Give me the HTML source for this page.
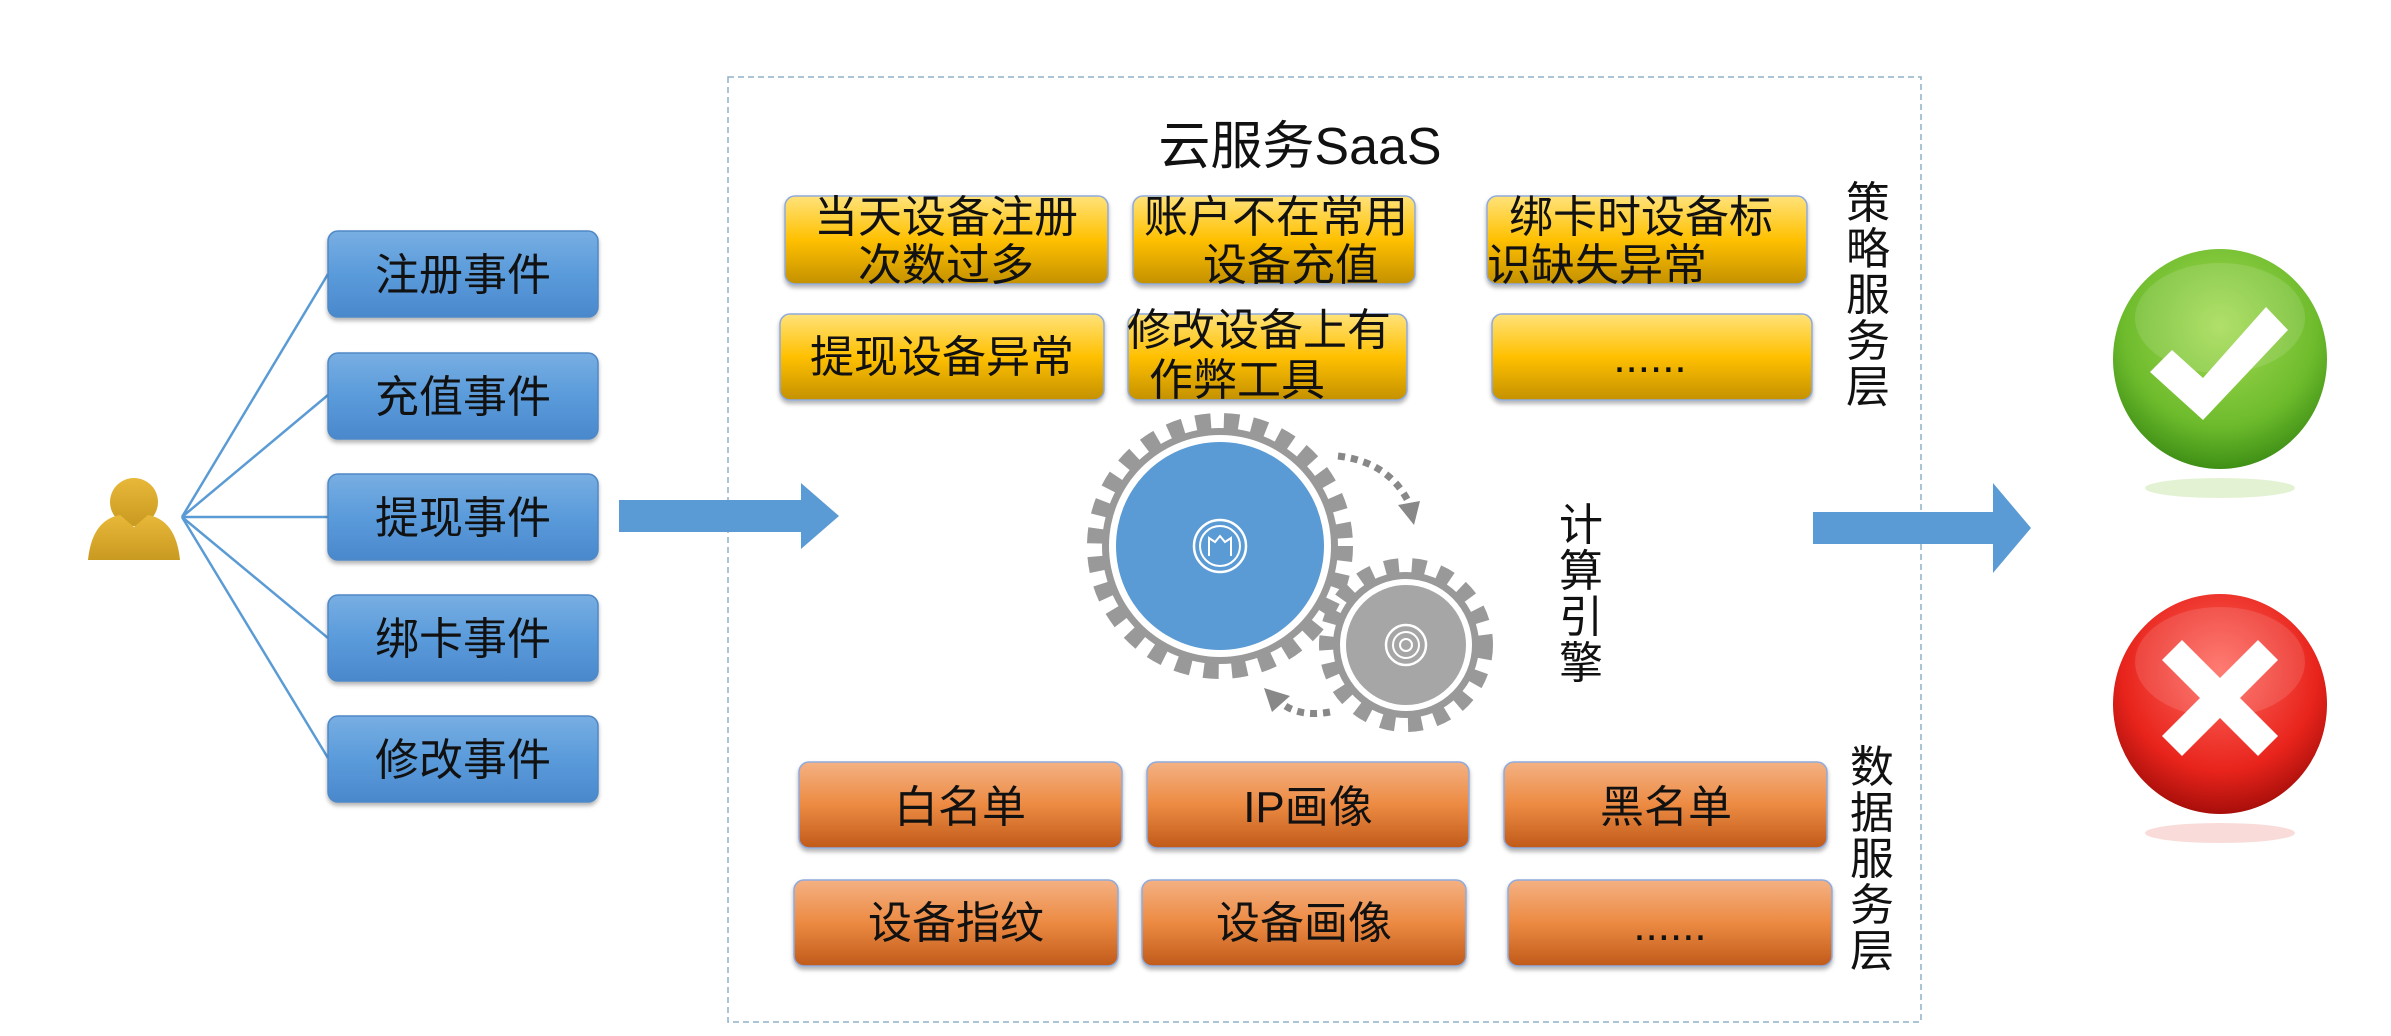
<!DOCTYPE html>
<html><head><meta charset="utf-8"><style>
html,body{margin:0;padding:0;background:#fff;}
svg{display:block;}
text{font-family:"Liberation Sans","Noto Sans CJK SC",sans-serif;}
</style></head><body>
<svg width="2391" height="1036" viewBox="0 0 2391 1036" xmlns="http://www.w3.org/2000/svg">
<defs>
<linearGradient id="gb" x1="0" y1="0" x2="0" y2="1"><stop offset="0" stop-color="#78aee2"/><stop offset="0.5" stop-color="#5a9bdb"/><stop offset="1" stop-color="#4a88cc"/></linearGradient>
<linearGradient id="gy" x1="0" y1="0" x2="0" y2="1"><stop offset="0" stop-color="#ffe27a"/><stop offset="0.5" stop-color="#ffc000"/><stop offset="1" stop-color="#c49100"/></linearGradient>
<linearGradient id="go" x1="0" y1="0" x2="0" y2="1"><stop offset="0" stop-color="#f4b183"/><stop offset="0.5" stop-color="#ec8a42"/><stop offset="1" stop-color="#c05a1a"/></linearGradient>
<radialGradient id="ggreen" cx="0.5" cy="0.35" r="0.65"><stop offset="0" stop-color="#a6dc55"/><stop offset="0.7" stop-color="#6dbb2c"/><stop offset="1" stop-color="#3f8f16"/></radialGradient>
<radialGradient id="gred" cx="0.5" cy="0.35" r="0.65"><stop offset="0" stop-color="#ff6a60"/><stop offset="0.7" stop-color="#e8241c"/><stop offset="1" stop-color="#a80e0a"/></radialGradient>
<linearGradient id="gp" x1="0" y1="0" x2="0" y2="1"><stop offset="0" stop-color="#e8b83a"/><stop offset="1" stop-color="#c99a20"/></linearGradient>
<filter id="sh" x="-10%" y="-10%" width="120%" height="130%"><feDropShadow dx="0" dy="3" stdDeviation="2" flood-color="#000" flood-opacity="0.3"/></filter>
</defs>

<rect x="728" y="77" width="1193" height="945" fill="none" stroke="#8fb0c8" stroke-width="1.5" stroke-dasharray="6 4"/>

<circle cx="134" cy="502" r="24" fill="url(#gp)"/>
<path d="M88 560 Q92 520 120 515 L134 527 L148 515 Q176 520 180 560 Z" fill="url(#gp)"/>

<g stroke="#5b9bd5" stroke-width="2.5" fill="none">
<line x1="182" y1="517" x2="328" y2="274"/>
<line x1="182" y1="517" x2="328" y2="395"/>
<line x1="182" y1="517" x2="328" y2="517"/>
<line x1="182" y1="517" x2="328" y2="638"/>
<line x1="182" y1="517" x2="328" y2="758"/>
</g>

<g filter="url(#sh)" fill="url(#gb)" stroke="#4f88c6" stroke-width="1.5">
<rect x="328" y="231" width="270" height="86" rx="10"/>
<rect x="328" y="353" width="270" height="86" rx="10"/>
<rect x="328" y="474" width="270" height="86" rx="10"/>
<rect x="328" y="595" width="270" height="86" rx="10"/>
<rect x="328" y="716" width="270" height="86" rx="10"/>
</g>
<g font-size="44" fill="#111" text-anchor="middle">
<text x="463" y="290">注册事件</text>
<text x="463" y="412">充值事件</text>
<text x="463" y="533">提现事件</text>
<text x="463" y="654">绑卡事件</text>
<text x="463" y="775">修改事件</text>
</g>

<path d="M619 500 H801 V483 L839 516 L801 549 V532 H619 Z" fill="#5b9bd5"/>
<path d="M1813 512 H1993 V483 L2031 528 L1993 573 V544 H1813 Z" fill="#5b9bd5"/>

<text x="1300" y="164" font-size="52" text-anchor="middle" fill="#111">云服务SaaS</text>

<g filter="url(#sh)" fill="url(#gy)" stroke="#8faadc" stroke-width="1.5">
<rect x="785" y="196" width="323" height="88" rx="10"/>
<rect x="1133" y="196" width="282" height="88" rx="10"/>
<rect x="1487" y="196" width="320" height="88" rx="10"/>
<rect x="780" y="314" width="324" height="86" rx="10"/>
<rect x="1128" y="314" width="279" height="86" rx="10"/>
<rect x="1492" y="314" width="320" height="86" rx="10"/>
</g>
<g font-size="44" fill="#111" text-anchor="middle">
<text x="946" y="232">当天设备注册</text>
<text x="946" y="280">次数过多</text>
<text x="1276" y="232">账户不在常用</text>
<text x="1291" y="280">设备充值</text>
<text x="1641" y="232">绑卡时设备标</text>
<text x="1597" y="280">识缺失异常</text>
<text x="942" y="372">提现设备异常</text>
<text x="1259" y="345">修改设备上有</text>
<text x="1237" y="395">作弊工具</text>
<text x="1650" y="372">......</text>
</g>

<g font-size="44" fill="#111" text-anchor="middle">
<text x="1868" y="218">策</text><text x="1868" y="264">略</text><text x="1868" y="310">服</text><text x="1868" y="356">务</text><text x="1868" y="402">层</text>
<text x="1872" y="782">数</text><text x="1872" y="828">据</text><text x="1872" y="874">服</text><text x="1872" y="920">务</text><text x="1872" y="966">层</text>
<text x="1581" y="540">计</text><text x="1581" y="586">算</text><text x="1581" y="632">引</text><text x="1581" y="678">擎</text>
</g>

<!-- gears -->
<circle cx="1220" cy="546" r="124" fill="none" stroke="#999" stroke-width="18" stroke-dasharray="15 13"/>
<circle cx="1220" cy="546" r="118" fill="#999"/>
<circle cx="1220" cy="546" r="111" fill="#fff"/>
<circle cx="1220" cy="546" r="104" fill="#5b9bd5"/>
<circle cx="1220" cy="546" r="26" fill="none" stroke="#fff" stroke-width="2.5"/>
<circle cx="1220" cy="546" r="20" fill="none" stroke="#fff" stroke-width="2"/>
<path d="M1209 556 V538 L1215 542 L1220 536 L1225 542 L1231 538 V556" fill="none" stroke="#fff" stroke-width="2"/>

<circle cx="1406" cy="645" r="79" fill="none" stroke="#999" stroke-width="16" stroke-dasharray="14 13"/>
<circle cx="1406" cy="645" r="73" fill="#999"/>
<circle cx="1406" cy="645" r="66" fill="#fff"/>
<circle cx="1406" cy="645" r="60" fill="#a6a6a6"/>
<circle cx="1406" cy="645" r="20" fill="none" stroke="#fff" stroke-width="2.5"/>
<circle cx="1406" cy="645" r="13" fill="none" stroke="#fff" stroke-width="2"/>
<circle cx="1406" cy="645" r="6" fill="none" stroke="#fff" stroke-width="2"/>

<path d="M1338 456 Q1390 462 1410 505" fill="none" stroke="#888" stroke-width="7" stroke-dasharray="7 6"/>
<path d="M1398 505 L1420 501 L1414 525 Z" fill="#888"/>
<path d="M1330 712 Q1296 718 1278 700" fill="none" stroke="#888" stroke-width="7" stroke-dasharray="7 6"/>
<path d="M1264 688 L1290 696 L1272 712 Z" fill="#888"/>

<g filter="url(#sh)" fill="url(#go)" stroke="#8faadc" stroke-width="1.5">
<rect x="799" y="762" width="323" height="86" rx="10"/>
<rect x="1147" y="762" width="322" height="86" rx="10"/>
<rect x="1504" y="762" width="323" height="86" rx="10"/>
<rect x="794" y="880" width="324" height="86" rx="10"/>
<rect x="1142" y="880" width="324" height="86" rx="10"/>
<rect x="1508" y="880" width="324" height="86" rx="10"/>
</g>
<g font-size="44" fill="#111" text-anchor="middle">
<text x="960" y="822">白名单</text>
<text x="1308" y="822">IP画像</text>
<text x="1666" y="822">黑名单</text>
<text x="956" y="938">设备指纹</text>
<text x="1304" y="938">设备画像</text>
<text x="1670" y="940">......</text>
</g>

<!-- green ball -->
<ellipse cx="2220" cy="488" rx="75" ry="10" fill="#c8e6a8" opacity="0.5"/>
<ellipse cx="2220" cy="359" rx="107" ry="110" fill="url(#ggreen)"/>
<ellipse cx="2220" cy="318" rx="85" ry="55" fill="#fff" opacity="0.12"/>
<path d="M2150 372 L2172 350 L2203 378 L2266 307 L2288 330 L2203 420 Z" fill="#fff"/>
<!-- red ball -->
<ellipse cx="2220" cy="833" rx="75" ry="10" fill="#f3b8b4" opacity="0.5"/>
<ellipse cx="2220" cy="704" rx="107" ry="110" fill="url(#gred)"/>
<ellipse cx="2220" cy="662" rx="85" ry="55" fill="#fff" opacity="0.12"/>
<path d="M2162 660 L2182 640 L2220 678 L2258 640 L2278 660 L2240 698 L2278 736 L2258 756 L2220 718 L2182 756 L2162 736 L2200 698 Z" fill="#fff"/>
</svg>
</body></html>
